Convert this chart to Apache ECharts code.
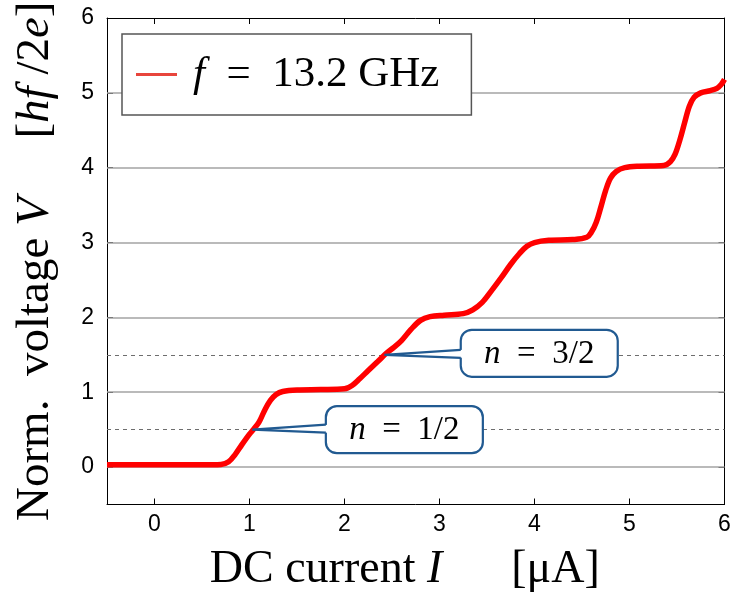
<!DOCTYPE html>
<html>
<head>
<meta charset="utf-8">
<script src="https://cdn.jsdelivr.net/npm/echarts@6/dist/echarts.min.js"></script>
<style>
  html, body { margin: 0; padding: 0; background: #fff; }
  #chart { width: 736px; height: 599px; }
</style>
</head>
<body>
<div id="chart"></div>
<script>
// DC current I (µA) and normalised voltage V (units of hf/2e)
const currentUA = [
  -0.5, 0.0, 0.5, 0.7, 0.78, 0.85, 0.92, 1.0, 1.04, 1.1, 1.16, 1.22, 1.28, 1.35,
  1.5, 1.75, 2.0, 2.08, 2.16, 2.25, 2.35, 2.44, 2.52, 2.6, 2.7, 2.8, 2.9,
  3.05, 3.25, 3.35, 3.45, 3.55, 3.65, 3.75, 3.84, 3.92, 4.0, 4.15, 4.4,
  4.55, 4.6, 4.65, 4.7, 4.75, 4.8, 4.86, 4.95, 5.1, 5.36, 5.43, 5.48,
  5.53, 5.58, 5.63, 5.68, 5.75, 5.85, 5.92, 5.97, 6.0
];
const voltageNorm = [
  0.03, 0.03, 0.03, 0.035, 0.07, 0.17, 0.3, 0.44, 0.5, 0.6, 0.76, 0.89, 0.97, 1.01,
  1.03, 1.035, 1.045, 1.09, 1.18, 1.29, 1.41, 1.52, 1.6, 1.69, 1.84, 1.96, 2.01,
  2.03, 2.05, 2.1, 2.2, 2.36, 2.53, 2.71, 2.85, 2.95, 3.0, 3.03, 3.04,
  3.07, 3.14, 3.27, 3.48, 3.7, 3.86, 3.95, 4.0, 4.02, 4.03, 4.08, 4.18,
  4.37, 4.6, 4.82, 4.94, 5.0, 5.03, 5.06, 5.12, 5.18
];

const xTicks = [0, 1, 2, 3, 4, 5, 6];
const yTicks = [0, 1, 2, 3, 4, 5, 6];
const integerLevels = [0, 1, 2, 3, 4, 5];
const halfLevels = [0.5, 1.5];

// Shapiro-step callouts: point on the curve and centre of the label box
const calloutFractions = ['1/2', '3/2'];
const calloutAnchors = [[1.03, 0.5], [2.42, 1.5]];
const calloutBoxCentres = [[2.63, 0.5], [4.05, 1.52]];

const seriesName = 'f = 13.2 GHz';

const SERIF = '"Liberation Serif", "Times New Roman", serif';
const SANS = '"Liberation Sans", Arial, sans-serif';
const CALLOUT_BLUE = '#215a91';

const curve = currentUA.map((x, i) => [x, voltageNorm[i]]);

const chart = echarts.init(document.getElementById('chart'), null, { renderer: 'canvas' });

function frameAxis(extra) {
  return Object.assign({
    type: 'value',
    min: -0.5,
    max: 6,
    axisLine: { show: true, onZero: false, lineStyle: { color: '#000', width: 1 } },
    axisTick: { show: true, inside: true, length: 6, lineStyle: { color: '#000', width: 1 } },
    splitLine: { show: false },
    axisLabel: { show: false }
  }, extra);
}

const gridMarks = integerLevels.map(v => ({
  yAxis: v,
  lineStyle: { color: '#a3a3a3', width: 1.5, type: 'solid' }
})).concat(halfLevels.map(v => ({
  yAxis: v,
  lineStyle: { color: '#6e6e6e', width: 1, type: [4, 4] }
})));

chart.setOption({
  animation: false,
  backgroundColor: '#fff',
  grid: { left: 107, right: 11.5, top: 18, bottom: 94.5, containLabel: false, outerBoundsMode: 'none' },
  xAxis: [
    frameAxis({
      position: 'bottom',
      axisTick: { show: true, inside: true, length: 6, customValues: xTicks, lineStyle: { color: '#000' } },
      axisLabel: {
        show: true, customValues: xTicks, margin: 9,
        fontFamily: SANS, fontSize: 23, color: '#000'
      },
      name: 'DC current {i|I}      [μA]',
      nameLocation: 'middle',
      nameGap: 42,
      nameTextStyle: {
        fontFamily: SERIF, fontSize: 46, color: '#000', padding: [0, 22, 0, 0],
        rich: { i: { fontFamily: SERIF, fontSize: 46, fontStyle: 'italic', color: '#000' } }
      }
    }),
    frameAxis({
      position: 'top',
      axisTick: { show: true, inside: true, length: 6, customValues: xTicks, lineStyle: { color: '#000' } }
    })
  ],
  yAxis: [
    frameAxis({
      position: 'left',
      axisTick: { show: true, inside: true, length: 6, customValues: yTicks, lineStyle: { color: '#000' } },
      axisLabel: {
        show: true, customValues: yTicks, margin: 13,
        fontFamily: SANS, fontSize: 23, color: '#000'
      },
      name: 'Norm.  voltage {i|V}     [{i|hf} /2{i|e}]',
      nameLocation: 'middle',
      nameRotate: 90,
      nameGap: 48,
      nameTextStyle: {
        fontFamily: SERIF, fontSize: 47, color: '#000',
        rich: { i: { fontFamily: SERIF, fontSize: 47, fontStyle: 'italic', color: '#000' } }
      }
    }),
    frameAxis({
      position: 'right',
      axisTick: { show: true, inside: true, length: 6, customValues: yTicks, lineStyle: { color: '#000' } }
    })
  ],
  legend: {
    data: [{ name: seriesName }],
    left: 122,
    top: 34,
    padding: [16, 32, 16, 14],
    borderColor: '#555',
    borderWidth: 1.5,
    backgroundColor: '#fff',
    icon: 'rect',
    itemWidth: 41,
    itemHeight: 3,
    itemStyle: { color: '#e8453c' },
    formatter: () => '{i|f}  =  13.2 GHz',
    textStyle: {
      fontFamily: SERIF, fontSize: 43, color: '#000', padding: [0, 0, 0, 11], lineHeight: 49,
      rich: { i: { fontFamily: SERIF, fontSize: 43, fontStyle: 'italic', color: '#000', lineHeight: 49 } }
    }
  },
  series: [{
    name: seriesName,
    type: 'line',
    data: curve,
    symbol: 'none',
    smooth: 0.35,
    z: 3,
    lineStyle: { color: '#ff0000', width: 5.5 },
    itemStyle: { color: '#ff0000' },
    markLine: {
      silent: true,
      z: 1,
      symbol: ['none', 'none'],
      label: { show: false },
      emphasis: { disabled: true },
      data: gridMarks
    }
  }]
});

// Callout boxes with wedge pointers, placed through the grid's data coordinates
function drawCallouts() {
  const elements = [];
  const boxW = 157, boxH = 47;
  calloutFractions.forEach((frac, i) => {
    const tip = chart.convertToPixel({ gridIndex: 0 }, calloutAnchors[i]);
    const c = chart.convertToPixel({ gridIndex: 0 }, calloutBoxCentres[i]);
    const left = c[0] - boxW / 2, top = c[1] - boxH / 2;
    const baseY = tip[1] - 1;
    elements.push({
      type: 'rect', z: 100,
      shape: { x: left, y: top, width: boxW, height: boxH, r: 11 },
      style: { fill: '#fff', stroke: CALLOUT_BLUE, lineWidth: 2.2 }
    });
    elements.push({
      type: 'polygon', z: 101,
      shape: { points: [[tip[0], tip[1]], [left + 3, baseY - 4], [left + 3, baseY + 4]] },
      style: { fill: '#fff', stroke: null }
    });
    elements.push({
      type: 'polyline', z: 102,
      shape: { points: [[left, baseY - 4], [tip[0], tip[1]], [left, baseY + 4]] },
      style: { stroke: CALLOUT_BLUE, lineWidth: 2.2, fill: null }
    });
    elements.push({
      type: 'text', z: 103,
      style: {
        x: c[0], y: c[1] + 1,
        text: '{i|n}  =  ' + frac,
        align: 'center', verticalAlign: 'middle',
        fontFamily: SERIF, fontSize: 33, fill: '#000',
        rich: { i: { fontFamily: SERIF, fontSize: 33, fontStyle: 'italic', fill: '#000' } }
      }
    });
  });
  chart.setOption({ graphic: elements });
}
drawCallouts();
</script>
</body>
</html>
